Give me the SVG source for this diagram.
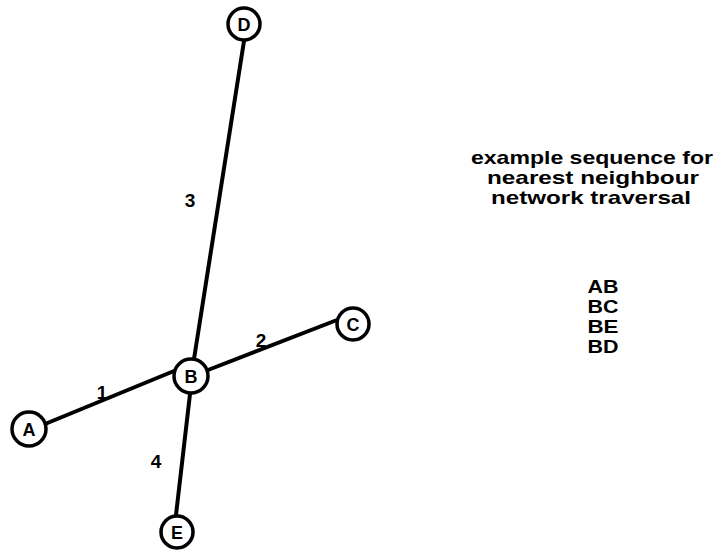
<svg xmlns="http://www.w3.org/2000/svg" width="724" height="553" viewBox="0 0 724 553">
<style>
.node circle{fill:#fff;stroke:#000;stroke-width:3.5}
.node text{font-family:"Liberation Sans",Arial,sans-serif;font-weight:bold;font-size:18px;text-anchor:middle}
.edge{stroke:#000;stroke-width:4;stroke-linecap:round;fill:none}
.lbl{font-family:"Liberation Sans",Arial,sans-serif;font-weight:bold;font-size:19px;text-anchor:middle}
.note{font-family:"Liberation Sans",Arial,sans-serif;font-weight:bold;font-size:19px;text-anchor:middle}
</style>
<rect width="724" height="553" fill="#fff"/>
<g id="connectors">
<line class="edge" x1="45" y1="424" x2="174" y2="371"/>
<line class="edge" x1="208" y1="370" x2="337" y2="320"/>
<line class="edge" x1="244" y1="41" x2="194" y2="359"/>
<line class="edge" x1="190" y1="394" x2="176" y2="515"/>
<text class="lbl" x="102" y="399">1</text>
<text class="lbl" x="261" y="347">2</text>
<text class="lbl" x="190" y="207">3</text>
<text class="lbl" x="156" y="468">4</text>
</g>
<g id="node-D" class="node"><circle cx="244" cy="24" r="16"/><text x="244" y="30.5">D</text></g>
<g id="node-B" class="node"><circle cx="191" cy="376" r="17"/><text x="191" y="382.5">B</text></g>
<g id="node-A" class="node"><circle cx="29" cy="429" r="17"/><text x="29" y="435.5">A</text></g>
<g id="node-C" class="node"><circle cx="353" cy="324" r="16"/><text x="353" y="330.5">C</text></g>
<g id="node-E" class="node"><circle cx="177" cy="532" r="16"/><text x="177" y="538.5">E</text></g>
<g id="note">
<text class="note" x="592" y="164" textLength="242" lengthAdjust="spacingAndGlyphs">example sequence for</text>
<text class="note" x="593" y="184" textLength="212" lengthAdjust="spacingAndGlyphs">nearest  neighbour</text>
<text class="note" x="591" y="204" textLength="200" lengthAdjust="spacingAndGlyphs">network traversal</text>
<text class="note" x="603" y="293" textLength="31" lengthAdjust="spacingAndGlyphs">AB</text>
<text class="note" x="603" y="313" textLength="31" lengthAdjust="spacingAndGlyphs">BC</text>
<text class="note" x="603" y="333" textLength="31" lengthAdjust="spacingAndGlyphs">BE</text>
<text class="note" x="603" y="353" textLength="31" lengthAdjust="spacingAndGlyphs">BD</text>
</g>
</svg>
